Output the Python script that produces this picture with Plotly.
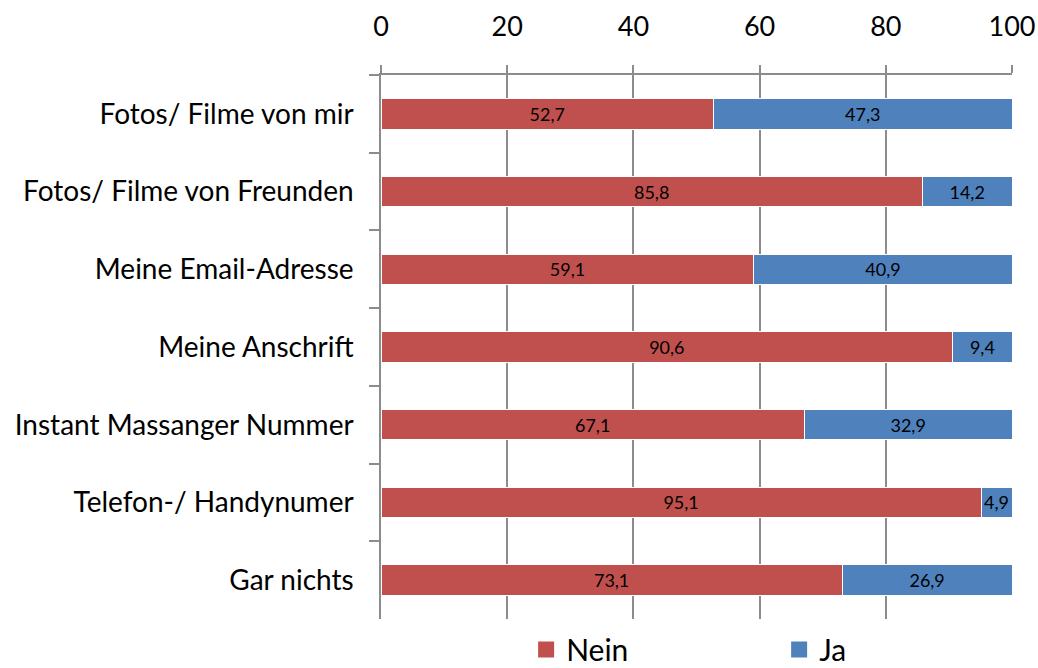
import plotly.graph_objects as go

categories = ["Fotos/ Filme von mir", "Fotos/ Filme von Freunden", "Meine Email-Adresse",
              "Meine Anschrift", "Instant Massanger Nummer", "Telefon-/ Handynumer", "Gar nichts"]
nein = [52.7, 85.8, 59.1, 90.6, 67.1, 95.1, 73.1]
ja = [47.3, 14.2, 40.9, 9.4, 32.9, 4.9, 26.9]
x_ticks = [0, 20, 40, 60, 80, 100]

FONT = "Lato"
RED = "#C0504D"
BLUE = "#4F81BD"
GRID = "#8C8C8C"

def fmt(v):
    return f"{v:.1f}".replace(".", ",")

fig = go.Figure()
for name, vals, col in [("Nein", nein, RED), ("Ja", ja, BLUE)]:
    fig.add_trace(go.Bar(
        y=categories, x=vals, name=name, orientation="h", showlegend=False,
        marker=dict(color=col, line=dict(color="white", width=1)),
        text=[fmt(v) for v in vals], textposition="inside", insidetextanchor="middle",
        textfont=dict(family=FONT, size=18, color="black"), textangle=0,
    ))
# legend entries with larger square symbols
for name, col in [("Nein", RED), ("Ja", BLUE)]:
    fig.add_trace(go.Scatter(
        x=[None], y=[None], mode="markers", name=name,
        marker=dict(symbol="square", size=18, color=col),
        showlegend=True, hoverinfo="skip",
    ))

fig.update_layout(
    barmode="stack",
    bargap=0.61,
    width=1038, height=668,
    margin=dict(l=381, r=26, t=75, b=49, autoexpand=False),
    plot_bgcolor="white", paper_bgcolor="white",
    font=dict(family=FONT, color="black"),
    uniformtext=dict(minsize=10, mode="show"),
    xaxis=dict(
        side="top", range=[0, 100], tickvals=x_ticks,
        ticktext=[str(v) for v in x_ticks],
        showgrid=True, gridcolor=GRID, gridwidth=1.5,
        showline=True, linecolor=GRID, linewidth=1.5,
        ticks="outside", ticklen=8, tickcolor=GRID, tickwidth=1.5,
        ticklabelstandoff=18,
        tickfont=dict(family=FONT, size=27, color="black"),
        zeroline=False, fixedrange=True, automargin=False,
    ),
    yaxis=dict(
        categoryorder="array", categoryarray=categories, autorange="reversed",
        showline=True, linecolor=GRID, linewidth=1.5,
        ticks="outside", tickson="boundaries", ticklen=10, tickcolor=GRID, tickwidth=1.5,
        ticklabelstandoff=20,
        tickfont=dict(family=FONT, size=28, color="black"),
        showgrid=False, fixedrange=True, automargin=False,
    ),
    legend=dict(
        orientation="h", x=0.23, xanchor="left", y=-0.056, yanchor="middle",
        font=dict(family=FONT, size=30, color="black"),
        entrywidth=208, entrywidthmode="pixels",
        itemsizing="trace", traceorder="normal",
    ),
    showlegend=True,
)

fig.write_html(
    "out.html",
    config={"displayModeBar": False},
    post_script="document.body.style.margin='0';document.body.style.overflow='hidden';",
)
